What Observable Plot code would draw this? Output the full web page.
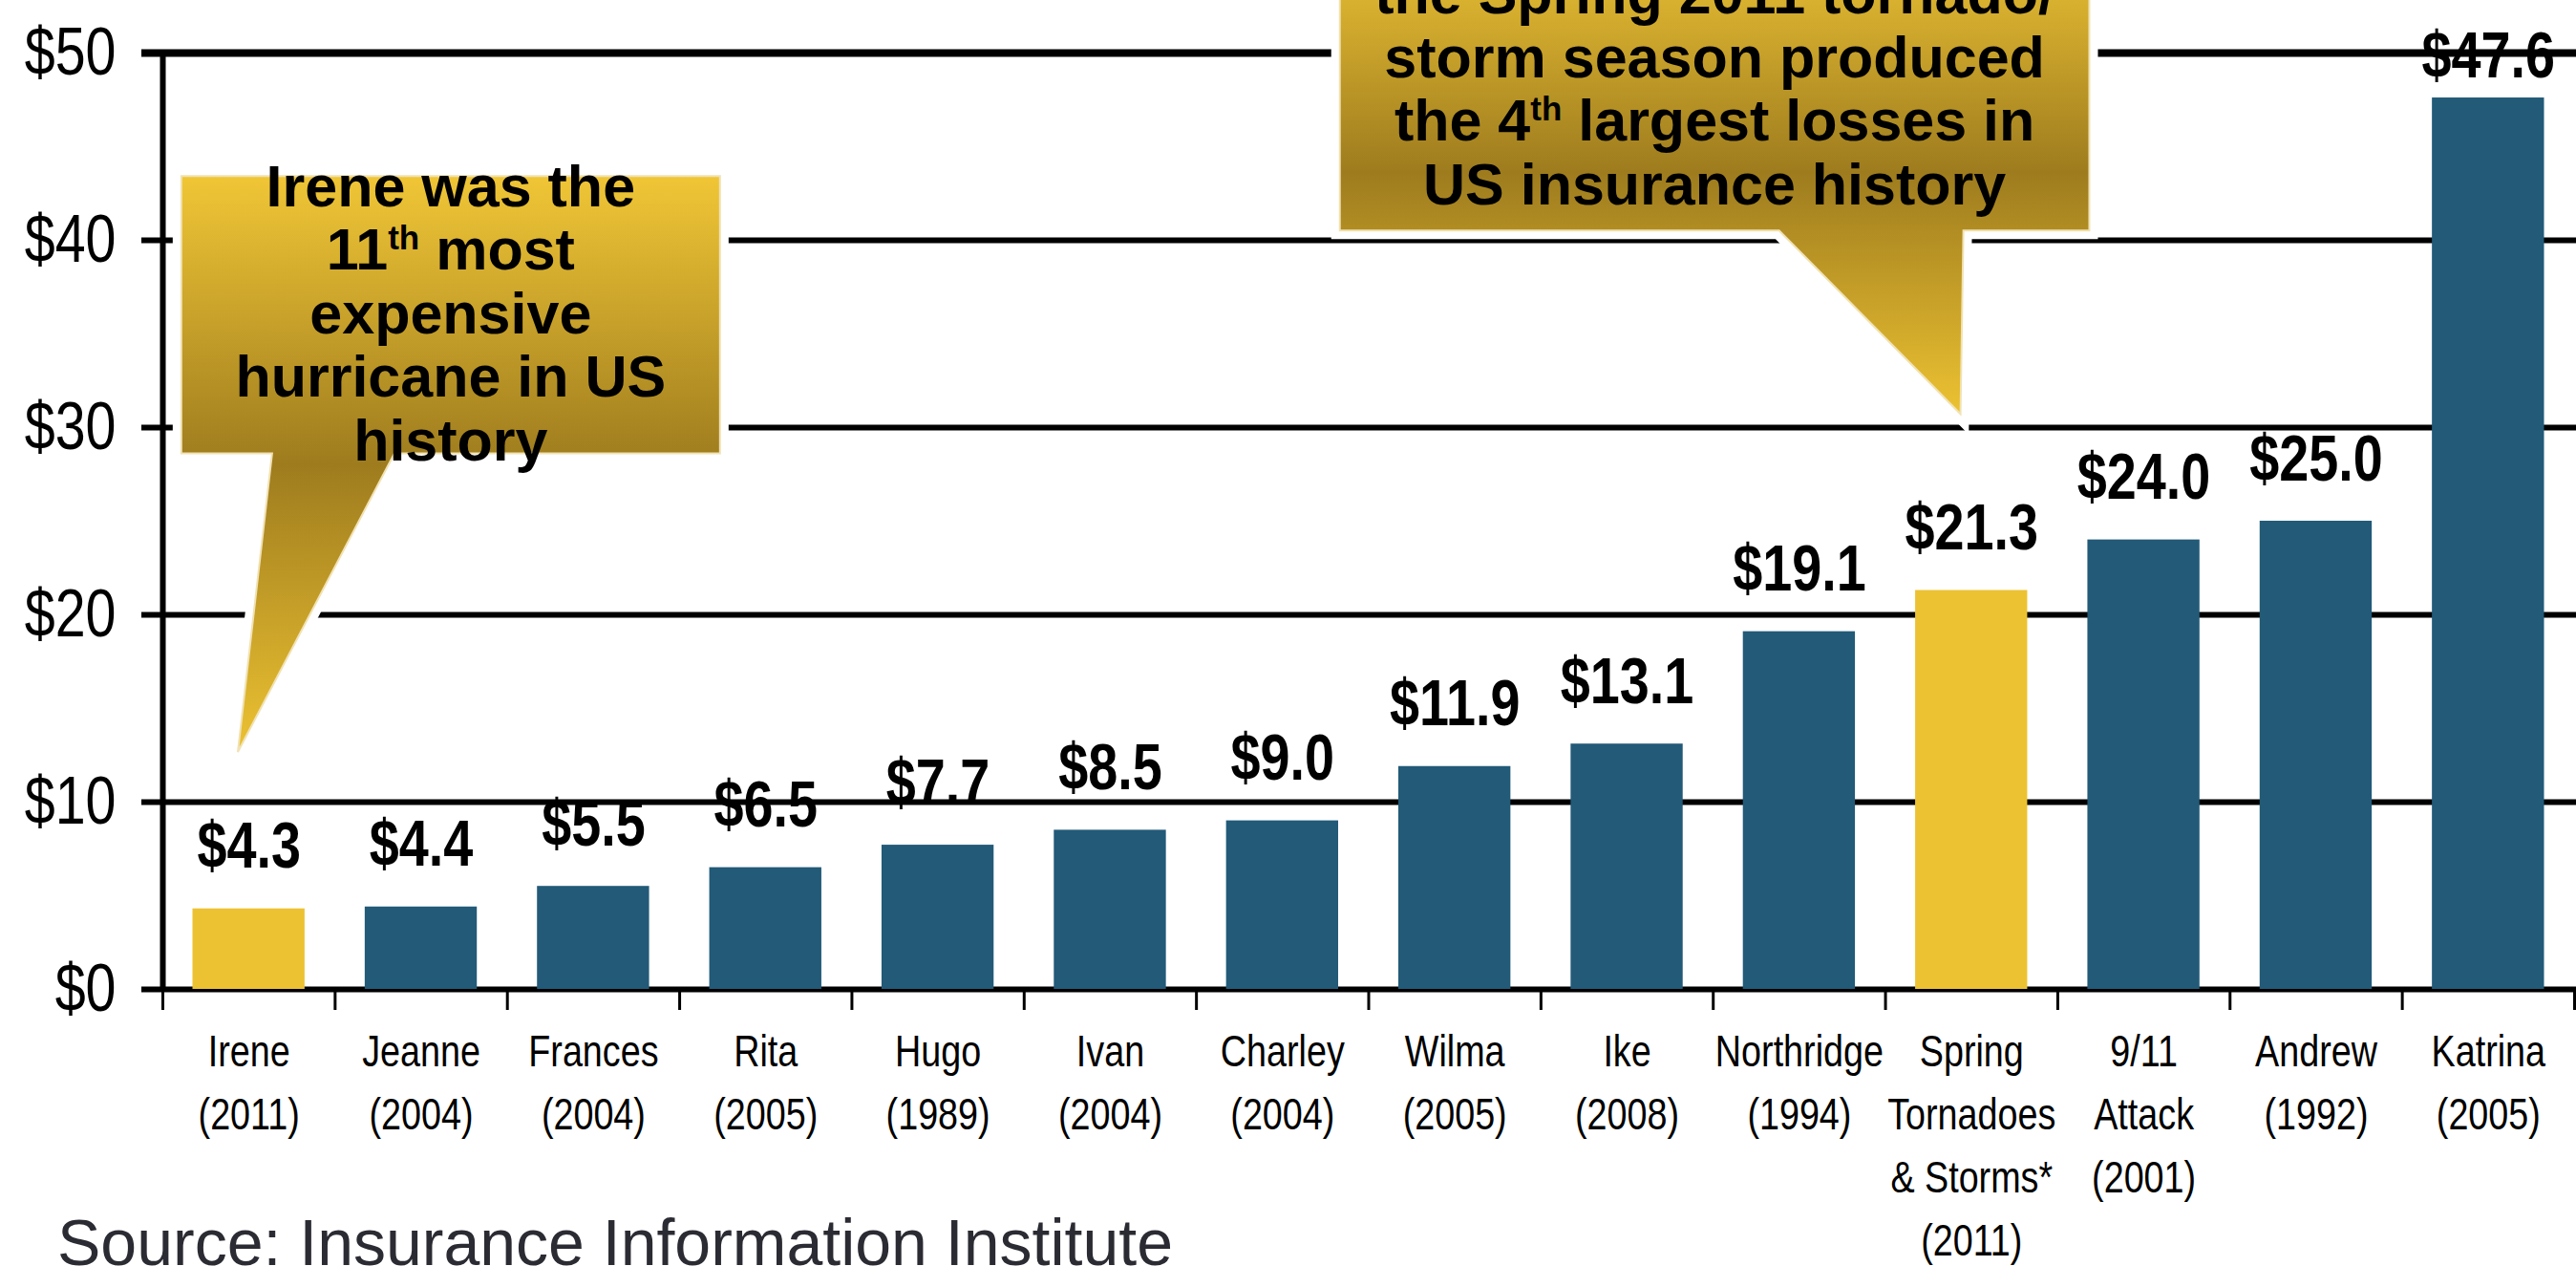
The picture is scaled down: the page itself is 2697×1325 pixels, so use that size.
<!DOCTYPE html>
<html>
<head>
<meta charset="utf-8">
<script src="https://cdn.jsdelivr.net/npm/d3@7"></script>
<script src="https://cdn.jsdelivr.net/npm/@observablehq/plot@0.6"></script>
<style>
  html, body { margin: 0; padding: 0; background: #fff; }
  #wrap { position: relative; width: 2697px; height: 1325px; overflow: hidden; background: #fff; }
  #source { position: absolute; left: 60px; top: 1266px; font: 68px/68px "Liberation Sans", Arial, sans-serif; color: #2b2b33; white-space: nowrap; }
</style>
</head>
<body>
<div id="wrap">
  <div id="chart"></div>
  <div id="source">Source: Insurance Information Institute</div>
</div>
<script>
// ---------------- data ----------------
const events = ["Irene", "Jeanne", "Frances", "Rita", "Hugo", "Ivan", "Charley", "Wilma", "Ike",
  "Northridge", "Spring Tornadoes & Storms*", "9/11 Attack", "Andrew", "Katrina"];
const tickLabels = ["Irene\n(2011)", "Jeanne\n(2004)", "Frances\n(2004)", "Rita\n(2005)", "Hugo\n(1989)",
  "Ivan\n(2004)", "Charley\n(2004)", "Wilma\n(2005)", "Ike\n(2008)", "Northridge\n(1994)",
  "Spring\nTornadoes\n& Storms*\n(2011)", "9/11\nAttack\n(2001)", "Andrew\n(1992)", "Katrina\n(2005)"];
const losses = [4.3, 4.4, 5.5, 6.5, 7.7, 8.5, 9.0, 11.9, 13.1, 19.1, 21.3, 24.0, 25.0, 47.6];
const highlighted = ["Irene", "Spring Tornadoes & Storms*"];
const yTicks = [0, 10, 20, 30, 40, 50];
const ireneNote = ["Irene was the", "11<sup>th</sup> most", "expensive", "hurricane in US", "history"];
const springNote = ["the Spring 2011 tornado/", "storm season produced", "the 4<sup>th</sup> largest losses in", "US insurance history"];

// ---------------- styling ----------------
const BLUE = "#225A78", YELLOW = "#EDC232";
const NARROW = '"Liberation Sans Narrow", "Arial Narrow", "Liberation Sans", Arial, sans-serif';
const WIDE = '"Liberation Sans", Arial, sans-serif';

function fontAvailable(name) {
  const c = document.createElement("canvas").getContext("2d");
  const s = "mmmmmmmmmmWWWlli1234567890";
  c.font = "40px monospace"; const a = c.measureText(s).width;
  c.font = `40px "${name}", monospace`; const b = c.measureText(s).width;
  c.font = "40px serif"; const e = c.measureText(s).width;
  c.font = `40px "${name}", serif`; const f = c.measureText(s).width;
  return a !== b || e !== f;
}
const narrowOK = fontAvailable("Liberation Sans Narrow") || fontAvailable("Arial Narrow");

const data = events.map((name, i) => ({
  i, name, label: tickLabels[i], value: losses[i],
  fill: highlighted.includes(name) ? YELLOW : BLUE
}));

// callout placement in data units (x = category index, y = $ billions)
const callouts = [
  {id: "irene", x1: 0.11, x2: 3.237, top: 43.4, bottom: 28.6, base1: 0.637, base2: 1.347,
   tipX: 0.438, tipY: 12.65, textY: 41.79, lines: ireneNote},
  {id: "spring", x1: 6.835, x2: 11.186, top: 56.5, bottom: 40.5, base1: 9.385, base2: 10.455,
   tipX: 10.438, tipY: 30.7, textY: 52.09, lines: springNote}
];

function calloutMark(c) {
  return (index, scales) => {
    const sx = scales.x, sy = scales.y;
    const g = d3.create("svg:g");
    const gid = "grad-" + c.id;
    const grad = g.append("defs").append("linearGradient")
      .attr("id", gid).attr("x1", 0).attr("y1", 0).attr("x2", 0).attr("y2", 1);
    grad.append("stop").attr("offset", 0).attr("stop-color", "#F0C636");
    grad.append("stop").attr("offset", 0.5).attr("stop-color", "#9E7C1E");
    grad.append("stop").attr("offset", 1).attr("stop-color", "#ECC232");
    const X1 = sx(c.x1), X2 = sx(c.x2), T = sy(c.top), B = sy(c.bottom);
    const b1 = sx(c.base1), b2 = sx(c.base2), tx = sx(c.tipX), ty = sy(c.tipY);
    const d = `M${X1},${T}H${X2}V${B}H${b2}L${tx},${ty}L${b1},${B}H${X1}Z`;
    g.append("path").attr("d", d).attr("fill", "none").attr("stroke", "#fff")
      .attr("stroke-width", 18).attr("stroke-linejoin", "miter");
    g.append("path").attr("d", d).attr("fill", `url(#${gid})`)
      .attr("stroke", "#F1E2B4").attr("stroke-width", 2);
    const cx = (X1 + X2) / 2, y0 = sy(c.textY), lh = 66.5;
    c.lines.forEach((line, k) => {
      const t = g.append("text").attr("x", cx).attr("y", y0 + k * lh)
        .attr("text-anchor", "middle").attr("font-family", WIDE)
        .attr("font-weight", "bold").attr("font-size", 61).attr("fill", "#000");
      const parts = line.split(/(<sup>.*?<\/sup>)/).filter(p => p.length);
      let raised = false;
      parts.forEach(p => {
        const m = p.match(/^<sup>(.*)<\/sup>$/);
        if (m) {
          t.append("tspan").attr("font-size", 35).attr("dy", -21).text(m[1]);
          raised = true;
        } else {
          const sp = t.append("tspan").text(p);
          if (raised) { sp.attr("dy", 21); raised = false; }
        }
      });
    });
    return g.node();
  };
}

const plot = Plot.plot({
  width: 2697,
  height: 1325,
  marginLeft: 170,
  marginRight: 2,
  marginTop: 55,
  marginBottom: 290,
  style: {background: "white", overflow: "visible"},
  x: {type: "linear", domain: [0, events.length], axis: null},
  y: {domain: [0, 50], axis: null},
  color: {type: "identity"},
  marks: [
    Plot.ruleY(yTicks.filter(v => v < 50), {y: d => d, stroke: "#000", strokeWidth: 6, insetLeft: -22, insetRight: -2}),
    Plot.ruleY(yTicks.filter(v => v === 50), {y: d => d, stroke: "#000", strokeWidth: 8, insetLeft: -22, insetRight: -2}),
    Plot.rectY(data, {x1: "i", x2: d => d.i + 1, y1: 0, y2: "value", fill: "fill", insetLeft: 31.5, insetRight: 31.5}),
    Plot.ruleX([0], {x: d => d, y1: 0, y2: 50, stroke: "#000", strokeWidth: 6}),
    Plot.axisX({ticks: d3.range(0, events.length + 1), tickFormat: () => "", tickSize: 22, strokeWidth: 3, stroke: "#000", label: null}),
    Plot.axisY({ticks: yTicks, tickFormat: d => "$" + d, tickSize: 0, tickPadding: 49, fontSize: 70,
      fontFamily: NARROW, fill: "#000", label: null}),
    // x tick labels
    Plot.text(data, {x: d => d.i + 0.5, y: 0, text: "label", lineAnchor: "top", dy: 33, lineHeight: 1.44,
      fontSize: 46, fontFamily: NARROW, fill: "#000"}),
    // value labels
    Plot.text(data.filter(d => d.value < 45), {x: d => d.i + 0.5, y: "value", text: d => "$" + d.value.toFixed(1),
      lineAnchor: "bottom", dy: -43, fontSize: 68, fontWeight: "bold", fontFamily: NARROW, fill: "#000"}),
    Plot.text(data.filter(d => d.value >= 45), {x: d => d.i + 0.5, y: "value", text: d => "$" + d.value.toFixed(1),
      lineAnchor: "bottom", dy: -22, fontSize: 68, fontWeight: "bold", fontFamily: NARROW, fill: "#000"}),
    ...callouts.map(calloutMark)
  ]
});

document.getElementById("chart").appendChild(plot);

// emulate a condensed face if no narrow font is installed
if (!narrowOK) {
  plot.querySelectorAll('g[font-family*="Narrow"] text').forEach(t => {
    const tr = t.getAttribute("transform");
    t.setAttribute("transform", (tr ? tr + " " : "") + "scale(0.82,1)");
  });
}
</script>
</body>
</html>
